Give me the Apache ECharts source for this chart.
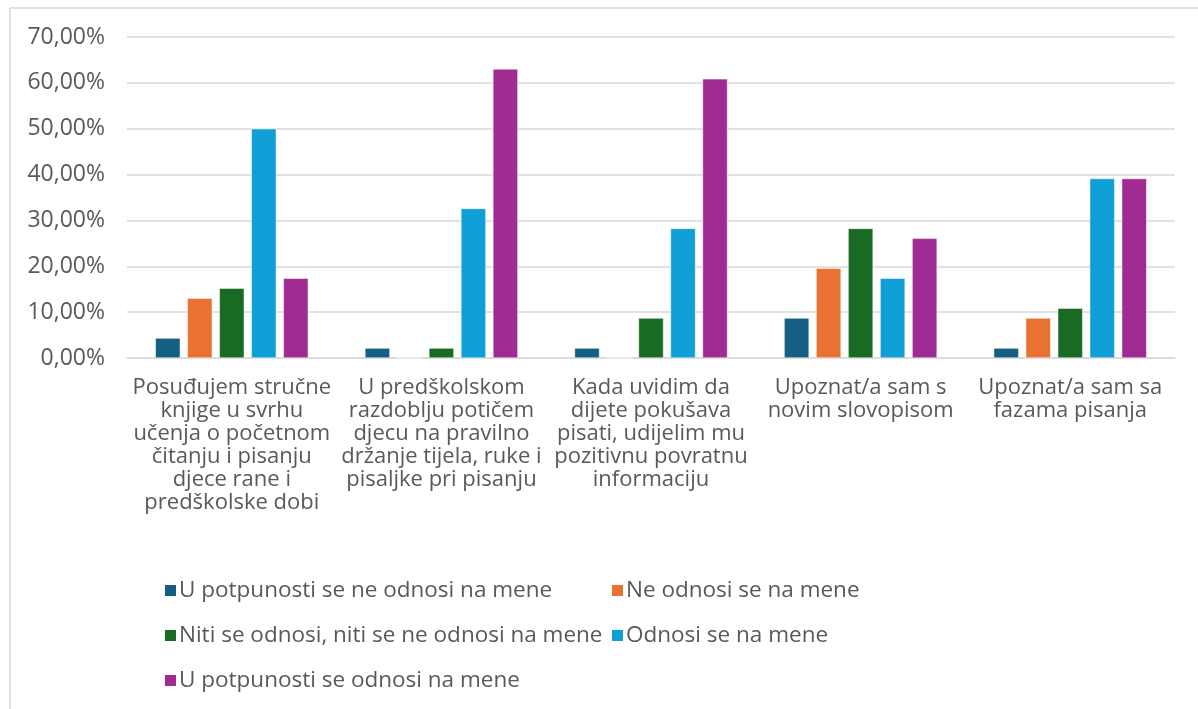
<!DOCTYPE html>
<html>
<head>
<meta charset="utf-8">
<script src="https://cdn.jsdelivr.net/npm/echarts@6/dist/echarts.min.js"></script>
<style>
  html, body { margin: 0; padding: 0; background: #fff; }
  #main { width: 1198px; height: 709px; }
</style>
</head>
<body>
<div id="main"></div>
<script>
const categories = [
  'Posuđujem stručne\nknjige u svrhu\nučenja o početnom\nčitanju i pisanju\ndjece rane i\npredškolske dobi',
  'U predškolskom\nrazdoblju potičem\ndjecu na pravilno\ndržanje tijela, ruke i\npisaljke pri pisanju',
  'Kada uvidim da\ndijete pokušava\npisati, udijelim mu\npozitivnu povratnu\ninformaciju',
  'Upoznat/a sam s\nnovim slovopisom',
  'Upoznat/a sam sa\nfazama pisanja'
]

const seriesNames = [
  'U potpunosti se ne odnosi na mene',
  'Ne odnosi se na mene',
  'Niti se odnosi, niti se ne odnosi na mene',
  'Odnosi se na mene',
  'U potpunosti se odnosi na mene'
]

const colors = ['#156082', '#E97132', '#196B24', '#0F9ED5', '#A02B93']

// postoci po kategoriji
const uopceNe = [4.35, 2.17, 2.17, 8.70, 2.17]
const ne = [13.04, 0, 0, 19.57, 8.70]
const niti = [15.22, 2.17, 8.70, 28.26, 10.87]
const odnosi = [50.00, 32.61, 28.26, 17.39, 39.13]
const uPotpunosti = [17.39, 63.04, 60.87, 26.09, 39.13]

const values = [uopceNe, ne, niti, odnosi, uPotpunosti]

const font = 'Open Sans'
const textColor = '#595959'

const chart = echarts.init(document.getElementById('main'))

const legendText = { fontSize: 22.5, color: textColor, fontFamily: font, padding: [0, 0, 0, -3] }

chart.setOption({
  animation: false,
  color: colors,
  textStyle: { fontFamily: font },
  graphic: [
    { type: 'line', shape: { x1: 10, y1: 8, x2: 1198, y2: 8 }, style: { stroke: '#d9d9d9', lineWidth: 1.5 } },
    { type: 'line', shape: { x1: 10, y1: 8, x2: 10, y2: 709 }, style: { stroke: '#d9d9d9', lineWidth: 1.5 } }
  ],
  grid: { left: 127, right: 23, top: 37, bottom: 351 },
  legend: [
    {
      orient: 'vertical',
      left: 158, top: 574,
      itemWidth: 13, itemHeight: 13, itemGap: 22,
      icon: 'rect',
      data: [seriesNames[0], seriesNames[2], seriesNames[4]],
      textStyle: legendText
    },
    {
      orient: 'vertical',
      left: 605, top: 574,
      itemWidth: 13, itemHeight: 13, itemGap: 22,
      icon: 'rect',
      data: [seriesNames[1], seriesNames[3]],
      textStyle: legendText
    }
  ],
  xAxis: {
    type: 'category',
    data: categories,
    axisLine: { lineStyle: { color: '#d9d9d9', width: 1.5 } },
    axisTick: { show: false },
    axisLabel: {
      interval: 0,
      margin: 18,
      fontSize: 22,
      lineHeight: 23,
      color: textColor,
      align: 'center'
    }
  },
  yAxis: {
    type: 'value',
    min: 0, max: 70, interval: 10,
    axisLine: { show: false },
    axisTick: { show: false },
    splitLine: { lineStyle: { color: '#d9d9d9', width: 1.5 } },
    axisLabel: {
      fontSize: 23,
      color: textColor,
      margin: 22,
      formatter: v => v.toFixed(2).replace('.', ',') + '%'
    }
  },
  series: seriesNames.map((name, i) => ({
    name,
    type: 'bar',
    data: values[i],
    barWidth: 25,
    barGap: '28%',
    itemStyle: { borderColor: '#ffffff', borderWidth: 0.5 }
  }))
})
</script>
</body>
</html>
